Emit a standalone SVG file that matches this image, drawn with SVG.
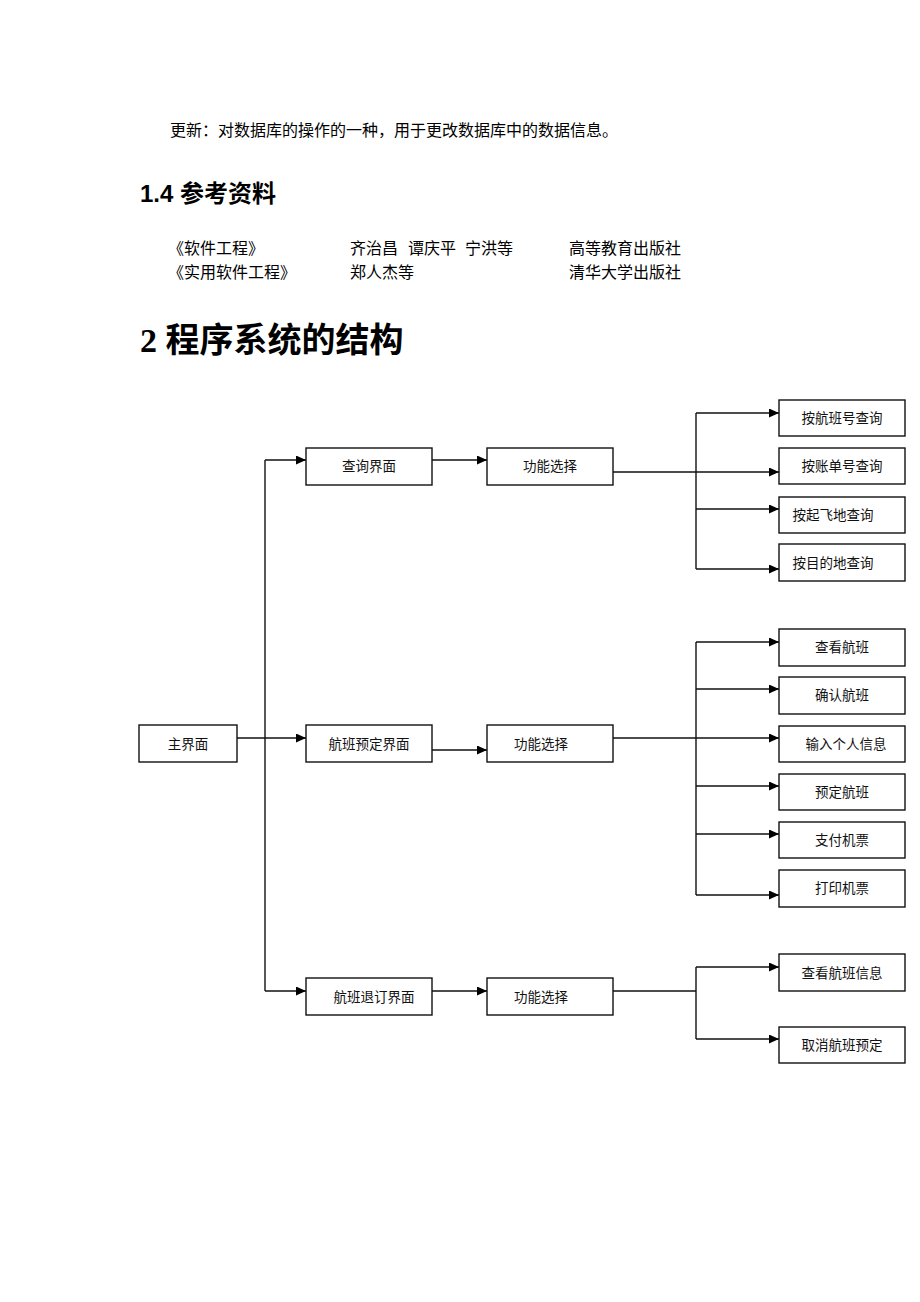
<svg xmlns="http://www.w3.org/2000/svg" width="920" height="1302" viewBox="0 0 920 1302">
<style>
.body{font-family:"Liberation Serif","Noto Sans CJK SC",serif;font-size:16px;fill:#000}
.h2{font-family:"Liberation Sans","Noto Sans CJK SC",sans-serif;font-size:24px;font-weight:bold;fill:#000}
.h1{font-family:"Liberation Serif","Noto Sans CJK SC",serif;font-size:34px;font-weight:bold;fill:#000}
.box{fill:#fff;stroke:#111;stroke-width:1.4}
.lbl{font-family:"Liberation Serif","Noto Sans CJK SC",serif;font-size:13.5px;fill:#111;text-anchor:middle}
.c{fill:none;stroke:#111;stroke-width:1.4}
.a{marker-end:url(#ah)}
</style>
<defs>
<marker id="ah" markerUnits="userSpaceOnUse" markerWidth="11" markerHeight="10" refX="10" refY="4.5" orient="auto">
<path d="M0,0 L10,4.5 L0,9 Z" fill="#000"/>
</marker>
</defs>
<rect width="920" height="1302" fill="#fff"/>

<text class="body" x="170" y="136">更新：对数据库的操作的一种，用于更改数据库中的数据信息。</text>
<text class="h2" x="140" y="202">1.4 参考资料</text>
<text class="body" x="168" y="254">《软件工程》</text>
<text class="body" x="350" y="254">齐治昌</text>
<text class="body" x="408" y="254">谭庆平</text>
<text class="body" x="465" y="254">宁洪等</text>
<text class="body" x="569" y="254">高等教育出版社</text>
<text class="body" x="168" y="278">《实用软件工程》</text>
<text class="body" x="350" y="278">郑人杰等</text>
<text class="body" x="569" y="278">清华大学出版社</text>
<text class="h1" x="140" y="352">2 程序系统的结构</text>

<g id="connectors">
<path class="c" d="M265,460 V991"/>
<path class="c a" d="M265,460 H306"/>
<path class="c a" d="M237,738 H306"/>
<path class="c a" d="M265,991 H306"/>
<path class="c a" d="M432,460 H487"/>
<path class="c a" d="M432,750 H487"/>
<path class="c a" d="M432,991 H487"/>

<path class="c a" d="M613,472 H779"/>
<path class="c" d="M696,413 V569"/>
<path class="c a" d="M696,413 H779"/>
<path class="c a" d="M696,509 H779"/>
<path class="c a" d="M696,569 H779"/>

<path class="c a" d="M613,738 H779"/>
<path class="c" d="M696,642 V895"/>
<path class="c a" d="M696,642 H779"/>
<path class="c a" d="M696,689 H779"/>
<path class="c a" d="M696,786 H779"/>
<path class="c a" d="M696,834 H779"/>
<path class="c a" d="M696,895 H779"/>

<path class="c" d="M613,991 H696"/>
<path class="c" d="M696,967 V1039"/>
<path class="c a" d="M696,967 H779"/>
<path class="c a" d="M696,1039 H779"/>
</g>

<g id="main"><rect class="box" x="139" y="725" width="98" height="37"/><text class="lbl" x="188" y="749">主界面</text></g>

<g id="query"><rect class="box" x="306" y="448" width="126" height="37"/><text class="lbl" x="369" y="471">查询界面</text></g>
<g id="query-func"><rect class="box" x="487" y="448" width="126" height="37"/><text class="lbl" x="550" y="471">功能选择</text></g>
<g id="q1"><rect class="box" x="779" y="400" width="126" height="36"/><text class="lbl" x="842" y="423">按航班号查询</text></g>
<g id="q2"><rect class="box" x="779" y="448" width="126" height="36"/><text class="lbl" x="842" y="471">按账单号查询</text></g>
<g id="q3"><rect class="box" x="779" y="497" width="126" height="36"/><text class="lbl" x="833" y="520">按起飞地查询</text></g>
<g id="q4"><rect class="box" x="779" y="544" width="126" height="37"/><text class="lbl" x="833" y="568">按目的地查询</text></g>

<g id="book"><rect class="box" x="306" y="725" width="126" height="37"/><text class="lbl" x="369" y="749">航班预定界面</text></g>
<g id="book-func"><rect class="box" x="487" y="725" width="126" height="37"/><text class="lbl" x="541" y="749">功能选择</text></g>
<g id="b1"><rect class="box" x="779" y="629" width="126" height="37"/><text class="lbl" x="842" y="652">查看航班</text></g>
<g id="b2"><rect class="box" x="779" y="677" width="126" height="37"/><text class="lbl" x="842" y="700">确认航班</text></g>
<g id="b3"><rect class="box" x="779" y="726" width="126" height="36"/><text class="lbl" x="846" y="749">输入个人信息</text></g>
<g id="b4"><rect class="box" x="779" y="774" width="126" height="36"/><text class="lbl" x="842" y="797">预定航班</text></g>
<g id="b5"><rect class="box" x="779" y="822" width="126" height="36"/><text class="lbl" x="842" y="845">支付机票</text></g>
<g id="b6"><rect class="box" x="779" y="870" width="126" height="37"/><text class="lbl" x="842" y="893">打印机票</text></g>

<g id="cancel"><rect class="box" x="306" y="978" width="126" height="37"/><text class="lbl" x="374" y="1002">航班退订界面</text></g>
<g id="cancel-func"><rect class="box" x="487" y="978" width="126" height="37"/><text class="lbl" x="541" y="1002">功能选择</text></g>
<g id="c1"><rect class="box" x="779" y="954" width="126" height="37"/><text class="lbl" x="842" y="978">查看航班信息</text></g>
<g id="c2"><rect class="box" x="779" y="1027" width="126" height="36"/><text class="lbl" x="842" y="1050">取消航班预定</text></g>
</svg>
